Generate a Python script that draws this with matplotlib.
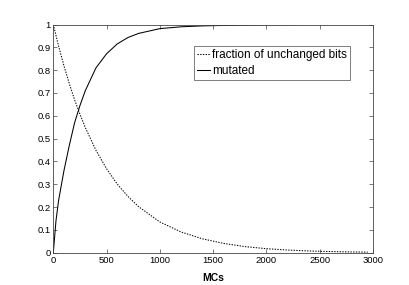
import matplotlib
matplotlib.use('Agg')
import matplotlib.pyplot as plt

plt.rcParams['font.family'] = ['Liberation Sans', 'DejaVu Sans']

# values
mcs = [0, 25, 50, 100, 150, 200, 250, 300, 400, 500, 600, 700, 800,
       1000, 1200, 1400, 1600, 1800, 2000, 2200, 2400, 2600, 2800, 2950]
unchanged = [1.0, 0.952, 0.905, 0.819, 0.741, 0.670, 0.607, 0.549, 0.449,
             0.368, 0.301, 0.247, 0.202, 0.135, 0.091, 0.061, 0.041,
             0.027, 0.018, 0.012, 0.008, 0.0055, 0.0037, 0.003]
mutated = [0.0, 0.14, 0.23, 0.36, 0.47, 0.57, 0.645, 0.71, 0.81, 0.872,
           0.915, 0.943, 0.961, 0.982, 0.990, 0.994, 0.996, 0.998,
           0.999, 0.9995, 1.0, 1.0, 1.0, 1.0]

xticks = [0, 500, 1000, 1500, 2000, 2500, 3000]
yticks = [0, 0.1, 0.2, 0.3, 0.4, 0.5, 0.6, 0.7, 0.8, 0.9, 1]
ylabels = ['0', '0.1', '0.2', '0.3', '0.4', '0.5', '0.6', '0.7', '0.8', '0.9', '1']

fig = plt.figure(figsize=(4.1, 2.85), dpi=100)
ax = fig.add_axes([0.130, 0.113, 0.780, 0.801])

ax.plot(mcs, unchanged, color='black', linestyle=(0, (1.3, 1.3)), lw=0.75,
        label='fraction of unchanged bits')
ax.plot(mcs, mutated, color='black', linestyle='-', lw=0.75, label='mutated')

ax.set_xlim(0, 3000)
ax.set_ylim(0, 1)
ax.set_xticks(xticks)
ax.set_yticks(yticks)
ax.set_yticklabels(ylabels)
ax.tick_params(direction='in', top=True, right=True, length=3, width=0.5,
               labelsize=6.8, pad=2, color='#444444')
for s in ax.spines.values():
    s.set_linewidth(0.6)
    s.set_color('#444444')

ax.set_xlabel('MCs', fontsize=7.5, fontweight='bold', labelpad=6)

leg = ax.legend(loc='upper left', bbox_to_anchor=(0.44, 0.906), fontsize=8.5,
                fancybox=False, handlelength=1.1, handletextpad=0.15,
                borderpad=0.25, labelspacing=0.35, borderaxespad=0)
leg.get_frame().set_edgecolor('#444444')
leg.get_frame().set_linewidth(0.6)

fig.savefig('out.png', dpi=100)
